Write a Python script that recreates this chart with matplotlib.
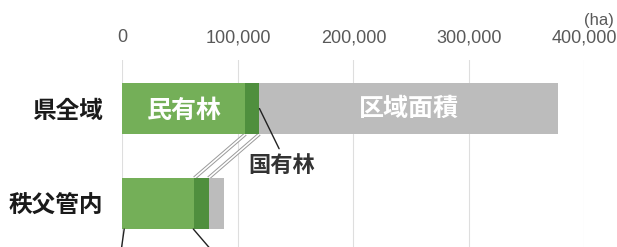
import matplotlib.pyplot as plt

plt.rcParams['font.family'] = ['Noto Sans CJK JP', 'DejaVu Sans']

# data (ha)
regions = ['県全域', '秩父管内']
private_forest = [106500, 62300]     # 民有林
national_forest = [12100, 12200]     # 国有林
total_area = [377500, 87500]         # 区域面積
ticks = [0, 100000, 200000, 300000, 400000]
tick_labels = ['0', '100,000', '200,000', '300,000', '400,000']

green = '#74af58'
dgreen = '#4f8f3e'
grey = '#bcbcbc'

fig = plt.figure(figsize=(6.17, 2.47), dpi=100)
ax = fig.add_axes([0.1985, 0.0, 0.7488, 0.757])

y = list(range(len(regions)))
h = 0.537
forest = [p + n for p, n in zip(private_forest, national_forest)]
rest = [t - f for t, f in zip(total_area, forest)]

ax.barh(y, private_forest, height=h, color=green, zorder=3)
ax.barh(y, national_forest, left=private_forest, height=h, color=dgreen, zorder=3)
ax.barh(y, rest, left=forest, height=h, color=grey, zorder=3)

ax.set_xlim(0, 400000)
ax.set_ylim(len(regions) - 1 + 0.458, -0.511)
ax.set_xticks(ticks)
ax.set_xticklabels(tick_labels, family='Liberation Sans', fontsize=13, color='#595959')
ax.xaxis.tick_top()
ax.tick_params(axis='x', length=0, pad=10)
ax.set_yticks(y)
ax.set_yticklabels(regions, fontsize=17, fontweight='bold', color='#1a1a1a')
ax.tick_params(axis='y', length=0, pad=14)
ax.grid(axis='x', color='#dedede', lw=0.8, zorder=0)
for s in ax.spines.values():
    s.set_visible(False)

# labels inside the prefecture bar
ax.text(private_forest[0] / 2, 0.03, '民有林', color='white', fontsize=18,
        fontweight='bold', ha='center', va='center', zorder=4)
ax.text((forest[0] + total_area[0]) / 2, 0.0, '区域面積', color='white', fontsize=18,
        fontweight='bold', ha='center', va='center', zorder=4)

# 国有林 callout
ax.annotate('国有林', xy=(forest[0], 0), xytext=(16, -41), textcoords='offset points',
            fontsize=16, fontweight='bold', color='#333333', ha='center', va='center',
            arrowprops=dict(arrowstyle='-', color='#222222', lw=1.0, shrinkA=2, shrinkB=0,
                            relpos=(0.5, 1.0)), zorder=5)

# zoom connector lines (double lines) between the two bars
for x1, x2 in [(private_forest[0], private_forest[1]), (forest[0], forest[1])]:
    ax.plot([x1, x2], [h / 2, 1 - h / 2], color='#9a9a9a', lw=2.6, zorder=2,
            solid_capstyle='butt')
    ax.plot([x1, x2], [h / 2, 1 - h / 2], color='white', lw=1.2, zorder=2,
            solid_capstyle='butt')

# leader lines below the Chichibu bar (labels fall outside the crop)
ax.annotate('', xy=(1500, 1 + h / 2), xytext=(-2, -14), textcoords='offset points',
            arrowprops=dict(arrowstyle='-', color='#222222', lw=1.0, shrinkA=0, shrinkB=0))
ax.annotate('', xy=(private_forest[1] - 1000, 1 + h / 2), xytext=(12, -14),
            textcoords='offset points',
            arrowprops=dict(arrowstyle='-', color='#222222', lw=1.0, shrinkA=0, shrinkB=0))

fig.text(584 / 617, 1 - 20 / 247, '(ha)', family='Liberation Sans', fontsize=12,
         color='#595959', ha='left', va='center')

fig.savefig('out.png', dpi=100)
